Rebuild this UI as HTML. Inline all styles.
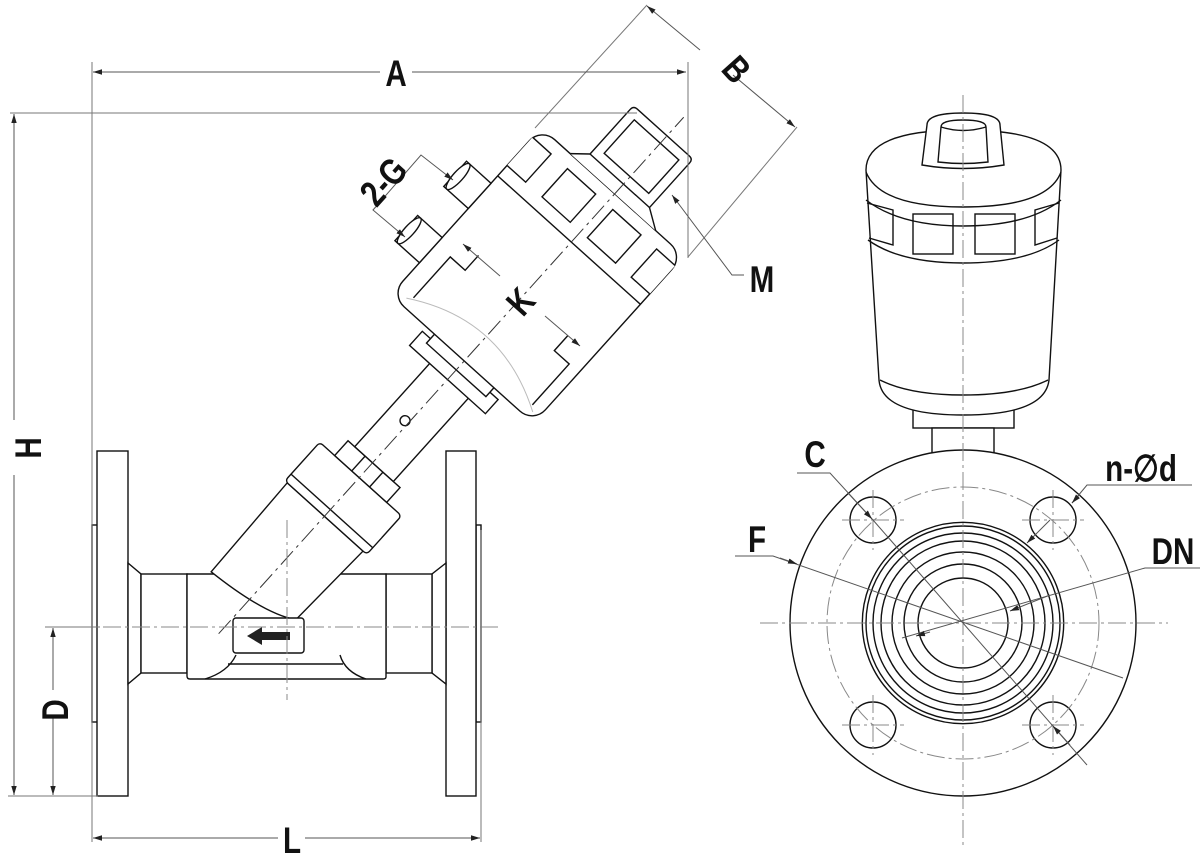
<!DOCTYPE html>
<html><head><meta charset="utf-8"><style>
html,body{margin:0;padding:0;background:#fff;}
svg{display:block;}
.lbl{font-family:"Liberation Sans Narrow","Liberation Sans",sans-serif;font-weight:bold;font-size:37px;fill:#111;}
</style></head><body>
<svg width="1200" height="853" viewBox="0 0 1200 853" xmlns="http://www.w3.org/2000/svg">
<defs>
<marker id="ar" viewBox="0 0 10 10" refX="10" refY="5" markerWidth="9" markerHeight="9" orient="auto-start-reverse" markerUnits="userSpaceOnUse"><path d="M0,2 L10,5 L0,8 z" fill="#222"/></marker>
</defs>
<g stroke="#111" stroke-width="1.4" fill="#fff">
<rect x="92" y="525" width="6" height="197"/>
<rect x="476" y="525" width="5" height="197"/>
<rect x="97" y="451" width="31" height="345"/>
<rect x="446" y="451" width="30" height="345"/>
<path d="M128,563 L141,574 L141,673 L128,684 Z"/>
<path d="M446,563 L432,574 L432,673 L446,684 Z"/>
<rect x="141" y="574" width="46" height="99"/>
<rect x="386" y="574" width="46" height="99"/>
<path d="M187,574 L386,574 L386,677 Q386,679 383,679 L190,679 Q187,679 187,676 Z"/>
<path d="M228,664 L343,664" fill="none"/>
<path d="M205,679 Q228,672 236,655 M366,679 Q345,672 340,655" fill="none"/>
</g>
<g transform="translate(222,630) rotate(-48)" stroke="#111" stroke-width="1.4" fill="#fff">
<path d="M36,-47 L153,-50 L153,52 L57,48 Q40,20 36,-47 Z"/>
<rect x="153" y="-53" width="52" height="110" rx="4"/>
<line x1="162" y1="-53" x2="162" y2="57"/>
<rect x="205" y="-33" width="20" height="70"/>
<line x1="205" y1="-10" x2="225" y2="-10"/><line x1="205" y1="14" x2="225" y2="14"/>
<rect x="225" y="-24" width="115" height="52"/>
<circle cx="278" cy="-4" r="5"/>
<rect x="337" y="-51" width="19" height="102"/>
<rect x="350" y="-40" width="14" height="80"/>
<rect x="362" y="-99" width="225" height="192" rx="18"/>
<line x1="522" y1="-99" x2="522" y2="93"/>
<rect x="536" y="-52" width="38" height="38"/>
<rect x="536" y="9" width="38" height="38"/>
<path d="M536,-99 L536,-74 L574,-74 L574,-99"/>
<path d="M536,93 L536,68 L574,68 L574,93"/>
<path d="M587,-60 L600,-45 L660,-45 Q665,-45 665,-40 L665,30 Q665,35 660,35 L600,35 L587,55" />
<rect x="610" y="-35" width="45" height="60"/>
<line x1="600" y1="-45" x2="600" y2="35"/>
<rect x="405" y="-132" width="34" height="33"/>
<ellipse cx="422" cy="-128" rx="17" ry="5"/>
<rect x="478" y="-132" width="34" height="33"/>
<ellipse cx="495" cy="-128" rx="17" ry="5"/>
<path d="M375,-80 L430,-80 L430,-60 L450,-60 M375,80 L430,80 L430,60 L450,60" fill="none"/>
<path d="M370,-85 Q420,0 370,85" fill="none" stroke="#bbb" stroke-width="1"/>
<line x1="-5" y1="0" x2="690" y2="0" stroke="#333" stroke-width="1" stroke-dasharray="18,5,3,5" fill="none"/>
</g>
<rect x="233" y="618" width="71" height="35" rx="3" fill="#fff" stroke="#111" stroke-width="1.4"/>
<path d="M290,632 L262,632 L262,627 L247,636 L262,645 L262,640 L290,640 Z" fill="#222"/>
<g stroke="#111" stroke-width="1.4" fill="#fff">
<rect x="913" y="408" width="101" height="20"/>
<rect x="932" y="428" width="62" height="26"/>
<circle cx="963" cy="623" r="173"/>
<circle cx="963" cy="623" r="100.7" fill="none"/>
<circle cx="963" cy="623" r="97" fill="none"/>
<circle cx="963" cy="623" r="90" fill="none"/>
<circle cx="963" cy="623" r="82" fill="none"/>
<circle cx="963" cy="623" r="71" fill="none"/>
<circle cx="963" cy="623" r="59" fill="none"/>
<circle cx="963" cy="623" r="45" fill="none"/>
<circle cx="873" cy="520" r="23" fill="none"/>
<circle cx="1053" cy="520" r="23" fill="none"/>
<circle cx="873" cy="725" r="23" fill="none"/>
<circle cx="1053" cy="725" r="23" fill="none"/>
<path d="M866,170 Q866,130 963,130 Q1061,130 1061,170 L1049,380 Q1045,415 963,415 Q882,415 879,380 Z"/>
<path d="M866,172 Q880,207 963,207 Q1048,207 1061,172" fill="none"/>
<path d="M866,200 Q900,226 963,226 Q1028,226 1061,200" fill="none"/>
<path d="M868,240 Q900,263 963,263 Q1028,263 1059,240" fill="none"/>
<path d="M880,380 Q910,395 963,395 Q1018,395 1048,380" fill="none"/>
<rect x="913" y="214" width="40" height="40" fill="none"/>
<rect x="975" y="214" width="40" height="40" fill="none"/>
<path d="M867,203 L893,210 L893,245 L869,238" fill="none"/>
<path d="M1059,203 L1035,210 L1035,245 L1057,238" fill="none"/>
<path d="M927,125 Q927,113 963,113 Q1000,113 1000,125 L1004,165 Q963,172 922,165 Z"/>
<path d="M941,127 Q941,120 963,120 Q986,120 986,127 L988,162 Q963,165 938,162 Z" fill="none"/>
<path d="M941,127 Q963,134 986,127" fill="none"/>
</g>
<g fill="none" stroke="#888" stroke-width="1" stroke-dasharray="18,4,3,4">
<line x1="45" y1="627" x2="500" y2="627"/>
<line x1="287" y1="520" x2="287" y2="700"/>
<line x1="963" y1="95" x2="963" y2="845"/>
<line x1="760" y1="623" x2="1168" y2="623"/>
<circle cx="963" cy="623" r="136"/>
<line x1="842" y1="520" x2="904" y2="520"/><line x1="873" y1="490" x2="873" y2="550"/>
<line x1="1022" y1="520" x2="1084" y2="520"/><line x1="1053" y1="490" x2="1053" y2="550"/>
<line x1="842" y1="725" x2="904" y2="725"/><line x1="873" y1="695" x2="873" y2="755"/>
<line x1="1022" y1="725" x2="1084" y2="725"/><line x1="1053" y1="695" x2="1053" y2="755"/>
</g>
<g fill="none" stroke="#777" stroke-width="1">
<line x1="92" y1="62" x2="92" y2="842"/>
<line x1="688" y1="62" x2="688" y2="258"/>
<line x1="10" y1="113" x2="637" y2="113"/>
<line x1="8" y1="796" x2="98" y2="796"/>
<line x1="45" y1="627" x2="100" y2="627"/>
<line x1="481" y1="530" x2="481" y2="842"/>
<line x1="647" y1="5" x2="535" y2="128"/>
<line x1="797" y1="127" x2="688" y2="257"/>
</g>
<g fill="none" stroke="#555" stroke-width="1">
<line x1="93" y1="72" x2="380" y2="72" marker-start="url(#ar)"/>
<line x1="412" y1="72" x2="686" y2="72" marker-end="url(#ar)"/>
<line x1="14" y1="420" x2="14" y2="114" marker-end="url(#ar)"/>
<line x1="14" y1="475" x2="14" y2="795" marker-end="url(#ar)"/>
<line x1="53" y1="690" x2="53" y2="628" marker-end="url(#ar)"/>
<line x1="53" y1="718" x2="53" y2="795" marker-end="url(#ar)"/>
<line x1="278" y1="838" x2="93" y2="838" marker-end="url(#ar)"/>
<line x1="305" y1="838" x2="480" y2="838" marker-end="url(#ar)"/>
<line x1="700" y1="50" x2="647" y2="6" marker-end="url(#ar)"/>
<line x1="733" y1="75" x2="795" y2="127" marker-end="url(#ar)"/>
<polyline points="744,275 732,275 672,195" marker-end="url(#ar)"/>
<polyline points="453,180 421,155 373,210 405,237" marker-start="url(#ar)" marker-end="url(#ar)"/>
<line x1="500" y1="276" x2="463" y2="244" marker-end="url(#ar)"/>
<line x1="545" y1="316" x2="580" y2="346" marker-end="url(#ar)"/>
<polyline points="797,473 830,473 873,520"/>
<line x1="873" y1="520" x2="1087" y2="765"/>
<line x1="1070" y1="745" x2="1053" y2="726" marker-end="url(#ar)"/>
<line x1="848" y1="493" x2="872" y2="519" marker-end="url(#ar)"/>
<polyline points="1192,485 1087,485 1072,503"/>
<line x1="1080" y1="494" x2="1072" y2="503" marker-end="url(#ar)"/>
<line x1="1050" y1="520" x2="1027" y2="543" marker-end="url(#ar)"/>
<polyline points="735,556 773,556 1123,678"/>
<line x1="780" y1="558" x2="797" y2="564" marker-end="url(#ar)"/>
<polyline points="1200,568 1145,568 902,638"/>
<line x1="1050" y1="595" x2="1010" y2="611" marker-end="url(#ar)"/>
<line x1="930" y1="632" x2="916" y2="636" marker-end="url(#ar)"/>
</g>
<text class="lbl" transform="translate(396,86) scale(0.8,1)" text-anchor="middle">A</text>
<text class="lbl" transform="translate(292,853) scale(0.8,1)" text-anchor="middle">L</text>
<text class="lbl" transform="translate(41,448) rotate(-90) scale(0.8,1)" text-anchor="middle">H</text>
<text class="lbl" transform="translate(68,710) rotate(-90) scale(0.8,1)" text-anchor="middle">D</text>
<text class="lbl" transform="translate(727,78) rotate(48) scale(0.8,1)" text-anchor="middle">B</text>
<text class="lbl" transform="translate(393,190) rotate(-48) scale(0.8,1)" text-anchor="middle">2-G</text>
<text class="lbl" transform="translate(530,310) rotate(-48) scale(0.8,1)" text-anchor="middle">K</text>
<text class="lbl" transform="translate(762,292) scale(0.8,1)" text-anchor="middle">M</text>
<text class="lbl" transform="translate(815,467) scale(0.8,1)" text-anchor="middle">C</text>
<text class="lbl" transform="translate(1141,481) scale(0.8,1)" text-anchor="middle">n-∅d</text>
<text class="lbl" transform="translate(757,552) scale(0.8,1)" text-anchor="middle">F</text>
<text class="lbl" transform="translate(1173,564) scale(0.8,1)" text-anchor="middle">DN</text>
</svg>
</body></html>
